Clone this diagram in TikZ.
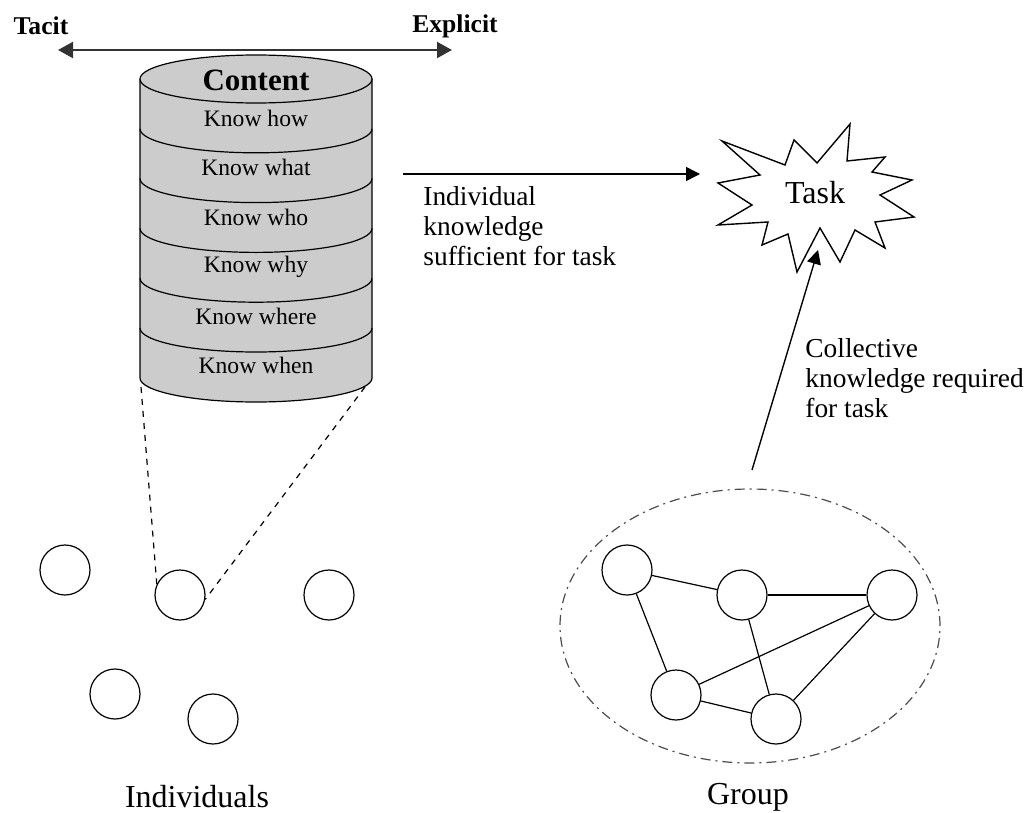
\documentclass[tikz,border=0pt]{standalone}
\usepackage{fontspec}
\setmainfont{Liberation Serif}
\usetikzlibrary{arrows.meta, positioning, shapes.geometric}

\begin{document}
\begin{tikzpicture}[
    x=0.5pt, y=0.5pt,
    every node/.style={font=\fontsize{11.8}{14}\selectfont},
    person/.style={circle, draw, line width=0.6pt, minimum size=25pt, inner sep=0pt},
    link/.style={line width=0.6pt},
    flow/.style={-{Triangle[length=7pt,width=7pt]}, line width=0.7pt},
    span/.style={{Triangle[length=7.5pt,width=8pt]}-{Triangle[length=7.5pt,width=8pt]},
                 line width=1.1pt, black!80},
    lbl/.style={font=\fontsize{13.7}{15}\selectfont, align=left, anchor=north west, inner sep=0pt},
    zoomline/.style={dash pattern=on 3pt off 3pt, line width=0.6pt},
    layer/.style={fill=black!20, draw, line width=0.6pt},
]
    \useasboundingbox (0,0) rectangle (1027,-813);

    % tacit / explicit axis
    \node[font=\bfseries\fontsize{12.8}{14}\selectfont] (tacit) at (41,-26) {Tacit};
    \node[font=\bfseries\fontsize{12.8}{14}\selectfont] (explicit) at (455,-26) {Explicit};
    \coordinate (tacitend) at (58,-50);
    \coordinate (explicitend) at (452,-50);
    \draw[span] (tacitend) -- (explicitend);

    % the content cylinder
    \fill[black!20] (140,-79) -- (140,-378) arc[start angle=180, end angle=360,
        x radius=58pt, y radius=12pt] -- (372,-79) -- cycle;
    \draw[line width=0.6pt] (140,-79) -- (140,-378) arc[start angle=180, end angle=360,
        x radius=58pt, y radius=12pt] -- (372,-79);
    \foreach \k in {1,...,5} {
        \draw[line width=0.6pt] (140,-79-49.8*\k) arc[start angle=180, end angle=360,
            x radius=58pt, y radius=12pt];
    }
    \draw[layer] (256,-79) ellipse[x radius=58pt, y radius=12pt];
    \node[font=\bfseries\fontsize{15.5}{17}\selectfont] (content) at (256,-80) {Content};
    \foreach \k/\txt in {0/Know how, 1/Know what, 2/Know who, 3/Know why, 4/Know where, 5/Know when} {
        \node (know\k) at (256,-118-49.5*\k) {\txt};
    }
    \coordinate (cylBL) at (141,-387);
    \coordinate (cylBR) at (365,-387);

    % individuals
    \node[person] (i1) at (65,-570) {};
    \node[person] (i2) at (180,-595) {};
    \node[person] (i3) at (329,-595) {};
    \node[person] (i4) at (115,-694) {};
    \node[person] (i5) at (213,-719) {};
    \draw[zoomline] (cylBL) -- (i2.155);
    \draw[zoomline] (cylBR) -- (i2.-10);
    \node[font=\fontsize{16}{18}\selectfont] (indivs) at (197,-797) {Individuals};

    % group
    \node[ellipse, draw, black!70, line width=0.6pt,
          dash pattern=on 5pt off 2.5pt on 1pt off 2.5pt,
          minimum width=190pt, minimum height=137pt] (group) at (750,-626) {};
    \node[person] (g1) at (627,-570) {};
    \node[person] (g2) at (742,-595) {};
    \node[person] (g3) at (892,-595) {};
    \node[person] (g4) at (676,-695) {};
    \node[person] (g5) at (776,-719) {};
    \foreach \a/\b in {g1/g2, g1/g4, g2/g3, g2/g5, g3/g4, g3/g5, g4/g5} {
        \draw[link] (\a) -- (\b);
    }
    \node[font=\fontsize{16}{18}\selectfont] (grouplbl) at (748,-797) {Group};

    % task
    \draw[line width=0.7pt, fill=white] (722,-141) -- (785,-165) -- (794,-140) -- (817,-163)
        -- (850,-124) -- (847,-161) -- (885,-157) -- (872,-172) -- (912,-180)
        -- (880,-195) -- (914,-217) -- (875,-222) -- (885,-248) -- (855,-230)
        -- (840,-262) -- (820,-228) -- (797,-272) -- (788,-234) -- (762,-245)
        -- (768,-222) -- (718,-225) -- (752,-205) -- (718,-183) -- (760,-175) -- cycle;
    \node[font=\fontsize{16}{18}\selectfont] (task) at (815,-193) {Task};

    % arrows into the task
    \coordinate (cylR) at (403,-174);
    \coordinate (taskW) at (700,-174);
    \draw[flow] (cylR) -- (taskW);
    \node[lbl] (indivlbl) at (423,-186) {Individual\\knowledge\\sufficient for task};

    \coordinate (groupN) at (752,-470);
    \coordinate (taskS) at (818,-250);
    \draw[flow] (groupN) -- (taskS);
    \node[lbl] (colllbl) at (805,-338) {Collective\\knowledge required\\for task};
\end{tikzpicture}
\end{document}
